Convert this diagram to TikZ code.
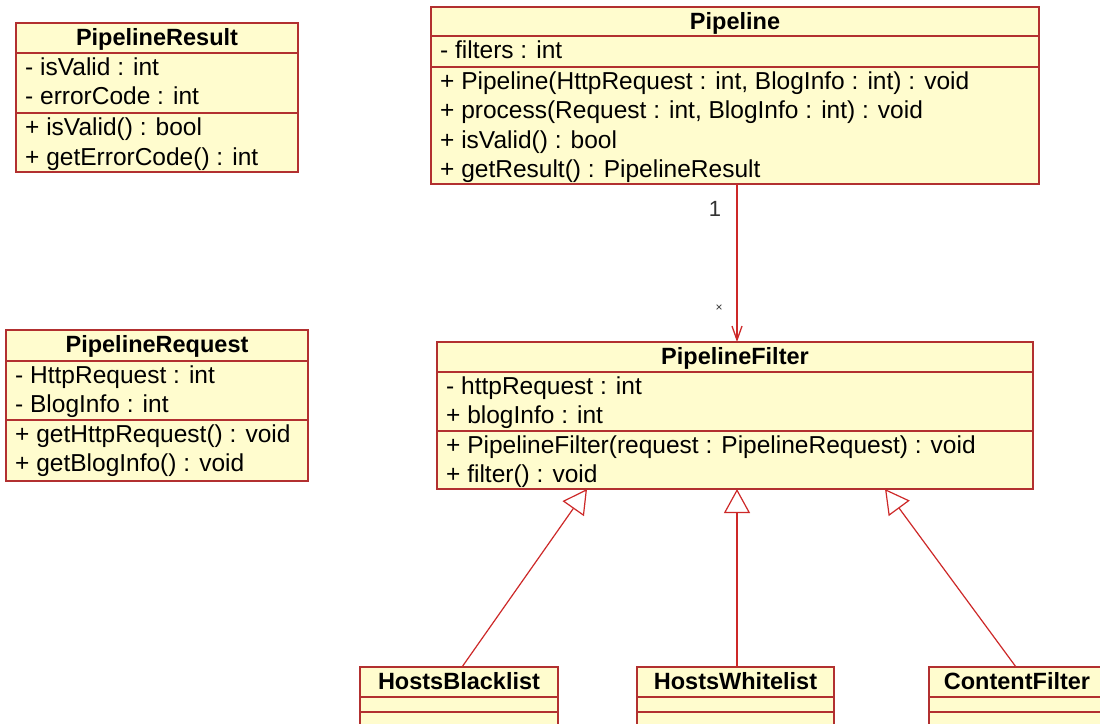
\documentclass[tikz,border=0pt]{standalone}
\usepackage{fontspec}
\setmainfont{Liberation Sans}
\usetikzlibrary{arrows.meta}
\definecolor{boxfill}{RGB}{255,252,206}
\definecolor{boxline}{RGB}{178,48,48}
\definecolor{conn}{RGB}{205,40,40}
\begin{document}
\begin{tikzpicture}[x=1pt,y=-1pt,
  box/.style={draw=boxline, fill=boxfill, line width=1.4pt, inner sep=0pt, outer sep=0pt, anchor=north west},
  sepline/.style={draw=boxline, line width=1.4pt},
  ttl/.style={font=\fontsize{23.5}{28}\selectfont\bfseries, inner sep=0pt, anchor=base, text=black},
  mem/.style={font=\fontsize{24.5}{29}\selectfont, inner sep=0pt, anchor=base west, text=black},
  gen/.style={draw=conn, line width=1.2pt, -{Triangle[open, length=24pt, width=26pt, fill=white]}},
  assoc/.style={draw=conn, line width=1.3pt, -{Straight Barb[length=14pt, width=10pt]}},
  mult/.style={inner sep=0pt, text=black!80}
]
\fill[white, use as bounding box] (0,0) rectangle (1100,723);
\clip (0,0) rectangle (1100,723);

% PipelineResult
\node[box, minimum width=282pt, minimum height=149pt] (res) at (16,23) {};
\draw[sepline] (16,53) -- (298,53);
\draw[sepline] (16,113) -- (298,113);
\node[ttl] (res-t) at (157,45) {PipelineResult};
\node[mem] (res-a1) at (25,75) {- isValid : int};
\node[mem] (res-a2) at (25,104.5) {- errorCode : int};
\node[mem] (res-m1) at (25,135.5) {+ isValid() : bool};
\node[mem] (res-m2) at (25,165) {+ getErrorCode() : int};

% Pipeline
\node[box, minimum width=608pt, minimum height=177pt] (pl) at (431,7) {};
\draw[sepline] (431,36) -- (1039,36);
\draw[sepline] (431,67) -- (1039,67);
\node[ttl] (pl-t) at (735,29) {Pipeline};
\node[mem] (pl-a1) at (440,58) {- filters : int};
\node[mem] (pl-m1) at (440,89) {+ Pipeline(HttpRequest : int, BlogInfo : int) : void};
\node[mem] (pl-m2) at (440,118.5) {+ process(Request : int, BlogInfo : int) : void};
\node[mem] (pl-m3) at (440,148) {+ isValid() : bool};
\node[mem] (pl-m4) at (440,177.5) {+ getResult() : PipelineResult};

% PipelineRequest
\node[box, minimum width=302pt, minimum height=151pt] (req) at (6,330) {};
\draw[sepline] (6,361) -- (308,361);
\draw[sepline] (6,420) -- (308,420);
\node[ttl] (req-t) at (157,352) {PipelineRequest};
\node[mem] (req-a1) at (15,383) {- HttpRequest : int};
\node[mem] (req-a2) at (15,412.5) {- BlogInfo : int};
\node[mem] (req-m1) at (15,442) {+ getHttpRequest() : void};
\node[mem] (req-m2) at (15,471.5) {+ getBlogInfo() : void};

% PipelineFilter
\node[box, minimum width=596pt, minimum height=147pt] (pf) at (437,342) {};
\draw[sepline] (437,372) -- (1033,372);
\draw[sepline] (437,431) -- (1033,431);
\node[ttl] (pf-t) at (735,364) {PipelineFilter};
\node[mem] (pf-a1) at (446,394) {- httpRequest : int};
\node[mem] (pf-a2) at (446,423.5) {+ blogInfo : int};
\node[mem] (pf-m1) at (446,453) {+ PipelineFilter(request : PipelineRequest) : void};
\node[mem] (pf-m2) at (446,482.5) {+ filter() : void};

% Subclasses
\node[box, minimum width=198pt, minimum height=60pt] (hb) at (360,667) {};
\draw[sepline] (360,697) -- (558,697);
\draw[sepline] (360,712) -- (558,712);
\node[ttl] (hb-t) at (459,689) {HostsBlacklist};

\node[box, minimum width=197pt, minimum height=60pt] (hw) at (637,667) {};
\draw[sepline] (637,697) -- (834,697);
\draw[sepline] (637,712) -- (834,712);
\node[ttl] (hw-t) at (735.5,689) {HostsWhitelist};

\node[box, minimum width=176pt, minimum height=60pt] (cf) at (929,667) {};
\draw[sepline] (929,697) -- (1105,697);
\draw[sepline] (929,712) -- (1105,712);
\node[ttl] (cf-t) at (1017,689) {ContentFilter};

% Association
\draw[assoc] ([xshift=306pt]pl.south west) -- ([xshift=300pt]pf.north west);
\node[mult, font=\fontsize{22}{26}\selectfont] (m1) at (715,209) {1};
\node[mult, font=\fontsize{12}{14}\selectfont] (m2) at (719,308) {×};

% Generalizations
\draw[gen] ([xshift=102pt]hb.north west) -- ([xshift=150pt]pf.south west);
\draw[gen] ([xshift=100pt]hw.north west) -- ([xshift=300pt]pf.south west);
\draw[gen] ([xshift=87pt]cf.north west) -- ([xshift=448pt]pf.south west);
\end{tikzpicture}
\end{document}
